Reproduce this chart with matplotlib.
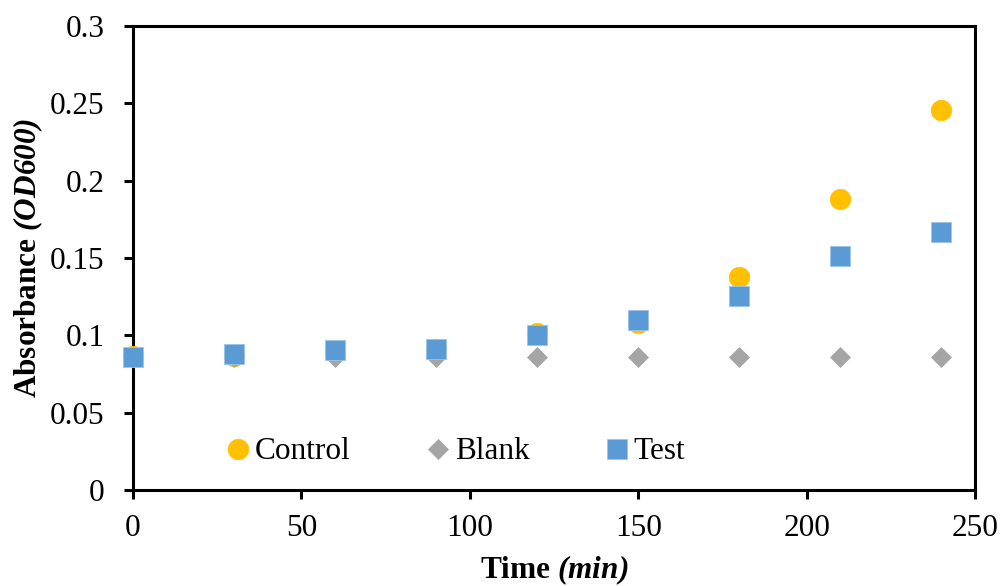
import matplotlib
matplotlib.use("Agg")
import matplotlib.pyplot as plt
from matplotlib.ticker import FuncFormatter

plt.rcParams.update({
    "font.family": "Liberation Serif",
    "mathtext.fontset": "custom",
    "mathtext.rm": "Liberation Serif",
    "mathtext.it": "Liberation Serif:italic",
    "mathtext.bf": "Liberation Serif:bold",
    "mathtext.bfit": "Liberation Serif:italic:bold",
})

# data
time_min = [0, 30, 60, 90, 120, 150, 180, 210, 240]
control = [0.0864, 0.0866, 0.0890, 0.0910, 0.1017, 0.1078, 0.1380, 0.1880, 0.2455]
blank = [0.0862, 0.0862, 0.0861, 0.0862, 0.0862, 0.0861, 0.0860, 0.0860, 0.0860]
test = [0.0862, 0.0877, 0.0903, 0.0912, 0.1002, 0.1097, 0.1255, 0.1513, 0.1668]

series = ["Control", "Blank", "Test"]
x_ticks = [0, 50, 100, 150, 200, 250]
y_ticks = [0, 0.05, 0.1, 0.15, 0.2, 0.25, 0.3]

YEL, GRY, BLU = "#FFC000", "#A5A5A5", "#5B9BD5"
FS = 22.5

fig = plt.figure(figsize=(10.03, 5.86), dpi=100)
ax = fig.add_axes([0.1326, 0.1638, 0.8395, 0.7918])

ax.plot(time_min, control, "o", ms=14.8, color=YEL, mec=YEL, mew=0.5, label=series[0], zorder=3)
ax.plot(time_min, blank, "D", ms=10.4, color=GRY, mec=GRY, mew=0.5, label=series[1], zorder=3)
ax.plot(time_min, test, "s", ms=14.2, color=BLU, mec="#9cc3e8", mew=0.6, label=series[2], zorder=3)

ax.set_xlim(0, 250)
ax.set_ylim(0, 0.3)
ax.set_xticks(x_ticks)
ax.set_yticks(y_ticks)
ax.yaxis.set_major_formatter(FuncFormatter(lambda v, p: f"{v:g}"))
ax.tick_params(axis="both", direction="out", length=6.5, width=2.2, labelsize=FS, color="black")
ax.tick_params(axis="y", pad=14)
ax.tick_params(axis="x", pad=11)
for s in ax.spines.values():
    s.set_linewidth(2.2)
    s.set_color("black")
for m in ax.get_lines():
    m.set_clip_on(False)

ax.text(-0.124, 0.5, r"Absorbance $\mathbfit{(OD600)}$", transform=ax.transAxes, rotation=90,
        ha="center", va="center", fontsize=FS, fontweight="bold")
ax.text(0.5, -0.172, r"Time $\mathbfit{(min)}$", transform=ax.transAxes,
        ha="center", va="center", fontsize=FS, fontweight="bold")

ax.legend(loc="center left", bbox_to_anchor=(0.111, 0.082), ncol=3, frameon=False,
          fontsize=FS, handlelength=0.75, handletextpad=0.16, columnspacing=2.42,
          borderpad=0, borderaxespad=0)

fig.savefig("out.png", dpi=100, facecolor="white")
